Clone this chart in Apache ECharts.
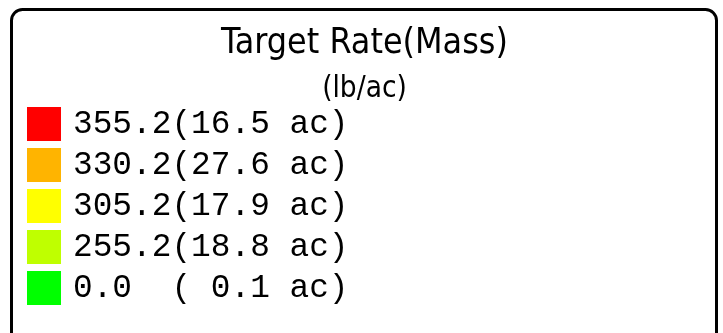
<!DOCTYPE html>
<html>
<head>
<meta charset="utf-8">
<script src="https://cdn.jsdelivr.net/npm/echarts@6/dist/echarts.min.js"></script>
<style>
  html, body { margin: 0; padding: 0; background: #ffffff; }
  #chart { width: 723px; height: 333px; }
</style>
</head>
<body>
<div id="chart"></div>
<script>
// Rate classes of the application map, with the area each one covers
const rates = [355.2, 330.2, 305.2, 255.2, 0.0];
const acres = [16.5, 27.6, 17.9, 18.8, 0.1];
const colors = ['#ff0000', '#ffb400', '#ffff00', '#bfff00', '#00ff00'];
const titleText = 'Target Rate(Mass)';
const unitText = '(lb/ac)';

// "355.2(16.5 ac)" style labels, padded into fixed columns
const labels = rates.map((r, i) =>
  r.toFixed(1).padEnd(5) + '(' + acres[i].toFixed(1).padStart(4) + ' ac)');

const chart = echarts.init(document.getElementById('chart'), null, { renderer: 'canvas' });

chart.setOption({
  animation: false,
  backgroundColor: '#ffffff',
  title: {
    text: titleText,
    subtext: unitText,
    // centred on the frame drawn below
    left: 364.5,
    textAlign: 'center',
    top: 26,
    padding: 0,
    itemGap: 12,
    textStyle: {
      fontFamily: 'DejaVu Sans Condensed',
      fontWeight: 'normal',
      fontSize: 35.5,
      color: '#000000'
    },
    subtextStyle: {
      fontFamily: 'DejaVu Sans Condensed',
      fontSize: 29.5,
      color: '#000000'
    }
  },
  legend: {
    orient: 'vertical',
    left: 27,
    top: 107,
    padding: 0,
    icon: 'rect',
    itemWidth: 34,
    itemHeight: 34,
    itemGap: 7,
    selectedMode: false,
    textStyle: {
      fontFamily: 'Liberation Mono',
      fontSize: 32.8,
      color: '#000000',
      padding: [0, 0, 0, 7]
    },
    data: labels
  },
  graphic: [{
    type: 'rect',
    silent: true,
    shape: { x: 11.5, y: 9.5, width: 705, height: 360, r: 11 },
    style: { fill: 'none', stroke: '#000000', lineWidth: 3 }
  }],
  series: [{
    type: 'pie',
    silent: true,
    radius: [0, 0],
    center: [-100, -100],
    label: { show: false },
    labelLine: { show: false },
    data: labels.map((name, i) => ({
      name: name,
      value: acres[i],
      itemStyle: { color: colors[i] }
    }))
  }]
});
</script>
</body>
</html>
